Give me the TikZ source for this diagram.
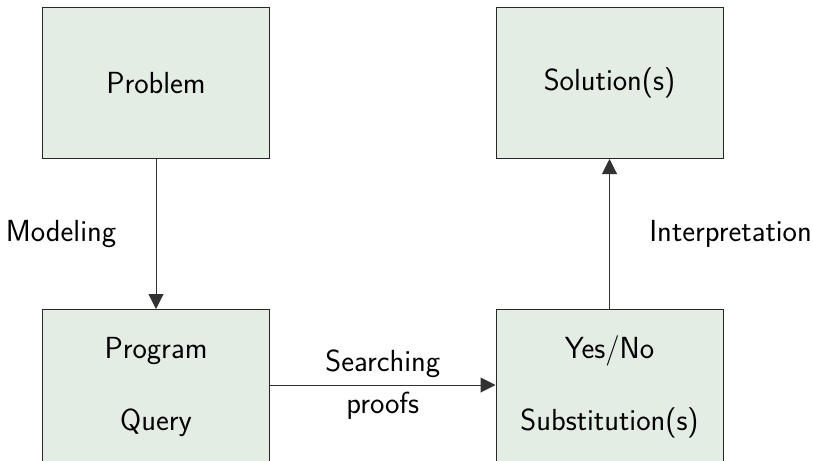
\documentclass[tikz,border=0pt]{standalone}
\usetikzlibrary{arrows.meta}
\definecolor{boxfill}{RGB}{227,237,228}
\definecolor{edgegray}{RGB}{50,50,50}
\begin{document}
\begin{tikzpicture}[x=1pt,y=-1pt,
  every node/.style={font=\sffamily\fontsize{30.5}{36}\selectfont},
  stagebox/.style={draw=black!85, line width=1pt, fill=boxfill, minimum width=227pt, inner sep=0pt, align=center},
  flow/.style={draw=edgegray, line width=1pt, -{Triangle[length=15pt,width=15pt]}}]
\clip (0,0) rectangle (813,460);
\useasboundingbox (0,0) rectangle (813,460);
\node[stagebox, minimum height=151pt] (prob) at (156,83) {Problem};
\node[stagebox, minimum height=151pt] (sol) at (609.5,83) {Solution(s)};
\node[stagebox, minimum height=155pt] (prog) at (156,387) {Program\\[36pt]Query};
\node[stagebox, minimum height=155pt] (yes) at (609.5,387) {Yes/No\\[36pt]Substitution(s)};
\draw[flow] (prob) -- node[left=36pt] {Modeling} (prog);
\draw[flow] (yes) -- node[right=36pt] {Interpretation} (sol);
\draw[flow] (prog.east |- 0,385) -- node[above=3pt] {Searching} node[below=3pt] {proofs} (yes.west |- 0,385);
\end{tikzpicture}
\end{document}
